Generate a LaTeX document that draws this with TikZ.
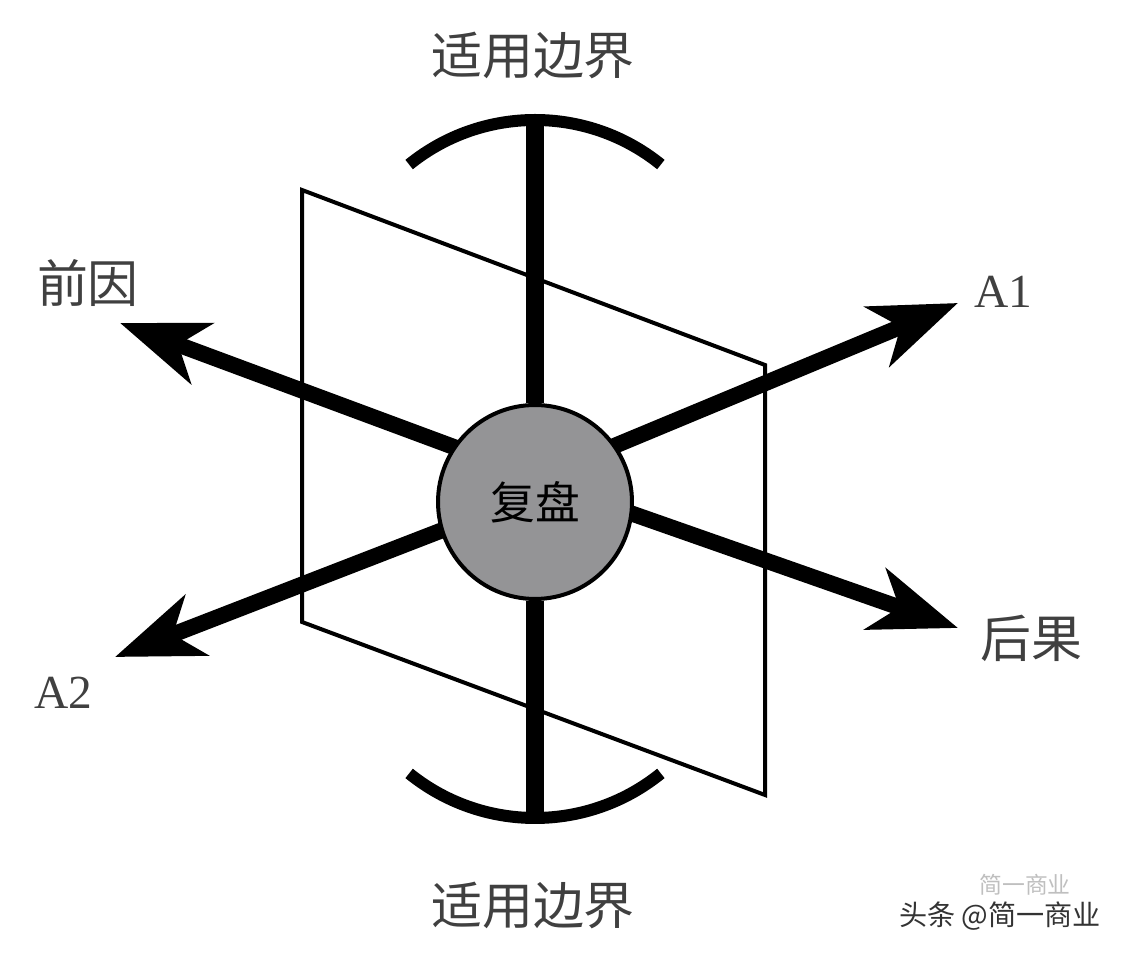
\documentclass[tikz,border=0pt]{standalone}
\usepackage{fontspec}
\setmainfont{Liberation Serif}
\newfontfamily\cjk{Noto Sans CJK SC}
\usetikzlibrary{arrows.meta, positioning, backgrounds}

\definecolor{diskgray}{RGB}{148,148,150}
\definecolor{labelgray}{RGB}{64,64,64}

\begin{document}
\begin{tikzpicture}[x=0.02cm, y=0.02cm,
    >={Stealth[length=1.74cm, width=1.28cm, inset=0.5cm]},
    bar/.style={line width=0.36cm},
    rim/.style={line width=0.24cm},
    spoke/.style={line width=0.32cm, ->, shorten <=-0.3cm},
    frame/.style={line width=0.08cm, line join=miter},
    hub/.style={circle, draw, line width=0.08cm, fill=diskgray, minimum size=3.88cm, inner sep=0pt},
    lbl/.style={text=labelgray, font=\cjk\fontsize{29}{31}\selectfont},
    tag/.style={text=labelgray, font=\fontsize{27}{29}\selectfont}]
    \useasboundingbox (0,0) rectangle (1130,956);

    \node[hub] (c) at (535,454) {\cjk\fontsize{25.5}{27}\selectfont 复盘};

    % plane
    \coordinate (p1) at (302,766);
    \coordinate (p2) at (765,591);
    \coordinate (p3) at (765,161);
    \coordinate (p4) at (302,334);
    % bar ends and arc centres
    \coordinate (tb) at (535,836);
    \coordinate (bb) at (535,138);
    \coordinate (ta) at (535,636);
    \coordinate (ba) at (535,338);
    % arrow tips
    \coordinate (cause) at (120,633);
    \coordinate (a1) at (958,653);
    \coordinate (effect) at (958,328);
    \coordinate (a2) at (115,299);

    \begin{scope}[on background layer]
        \fill[white] (0,0) rectangle (1130,956);
        \draw[frame] (p1) -- (p2) -- (p3) -- (p4) -- cycle;
        \draw[bar] (c) -- (tb);
        \draw[bar] (c) -- (bb);
        \draw[rim] ([shift={(129:200)}]ta) arc[start angle=129, end angle=51, radius=200];
        \draw[rim] ([shift={(231:200)}]ba) arc[start angle=231, end angle=309, radius=200];
        \draw[spoke] (c.146) -- (cause);
        \draw[spoke] (c.35) -- (a1);
        \draw[spoke] (c.-7) -- (effect);
        \draw[spoke] (c.197) -- (a2);
    \end{scope}

    \node[lbl] (toplbl) at (533,901) {适用边界};
    \node[lbl] (botlbl) at (533,51) {适用边界};
    \node[lbl] (causelbl) at (88,673) {前因};
    \node[lbl] (effectlbl) at (1031,318) {后果};
    \node[tag] (a1lbl) at (1003,664) {A1};
    \node[tag] (a2lbl) at (63,263) {A2};

    % watermark
    \node[text=black!25, font=\cjk\fontsize{13}{15}\selectfont] (ghost) at (1025,71) {简一商业};
    \node[text=black!80, font=\cjk\fontsize{16}{18}\selectfont] (mark) at (1000,40) {头条 @简一商业};
\end{tikzpicture}
\end{document}
